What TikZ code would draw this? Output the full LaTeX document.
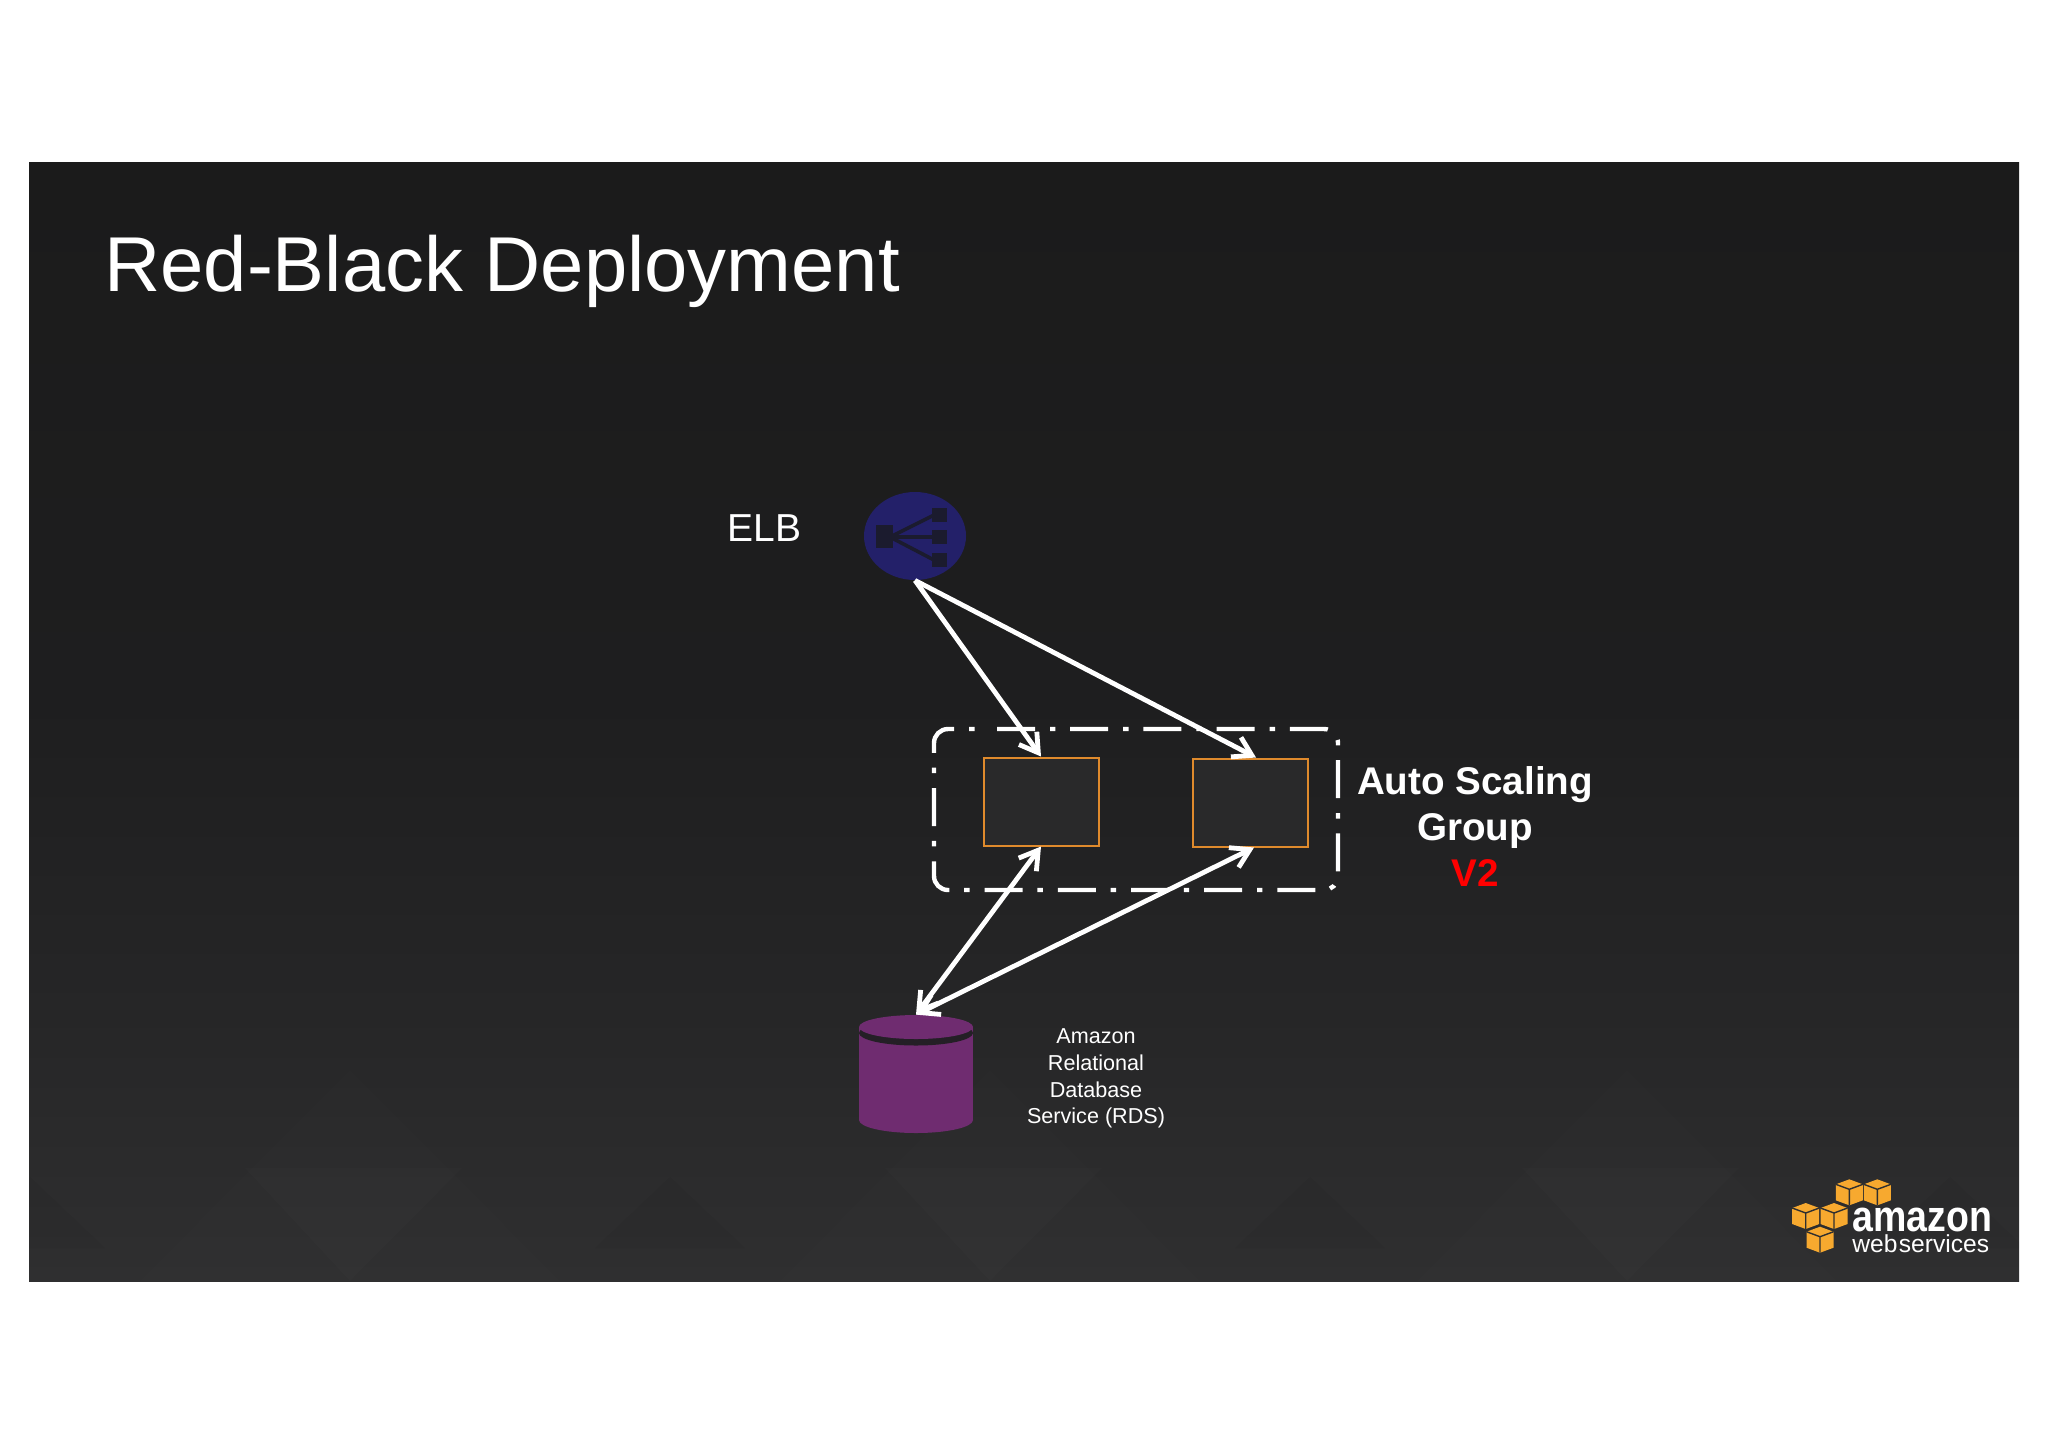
\documentclass[tikz,border=0pt]{standalone}
\usepackage{fontspec}
\usepackage{graphicx}
\setmainfont{Liberation Sans}
\usetikzlibrary{arrows.meta,shapes.geometric}
\definecolor{slidetop}{HTML}{1B1B1B}
\definecolor{slidemid}{HTML}{1E1E1F}
\definecolor{slidelow}{HTML}{262627}
\definecolor{slidebot}{HTML}{2F2F30}
\definecolor{elbblue}{HTML}{232069}
\definecolor{elbdark}{HTML}{1B1B2E}
\definecolor{rdspurple}{HTML}{6F2C70}
\definecolor{rdsdark}{HTML}{241F26}
\definecolor{boxedge}{HTML}{DF8A2C}
\definecolor{boxfill}{HTML}{29292A}
\definecolor{awsorange}{HTML}{F7A92F}
\pgfdeclareverticalshading{slidebg}{100bp}{color(0bp)=(slidebot); color(25bp)=(slidebot); color(37bp)=(slidelow); color(51bp)=(slidemid); color(75bp)=(slidetop); color(100bp)=(slidetop)}
\tikzset{
  slidetext/.style={text=white,inner sep=0pt},
  instance/.style={draw=boxedge,line width=1pt,fill=boxfill,minimum width=57.5pt,minimum height=44pt,inner sep=0pt},
  flow/.style={draw=white,line width=2.4pt,-{Straight Barb[length=9pt,width=11pt]}},
  bothflow/.style={flow,{Straight Barb[length=9pt,width=11pt]}-{Straight Barb[length=9pt,width=11pt]}},
}
\begin{document}
\begin{tikzpicture}[x=0.5pt,y=-0.5pt]
  \useasboundingbox (0,0) rectangle (2048,1447);
  \fill[white] (0,0) rectangle (2048,1447);
  \fill[shading=slidebg] (29,162) rectangle (2019,1281);
  \begin{scope}
    \clip (29,162) rectangle (2019,1281);
    \foreach \x in {350,990,1627} {
      \fill[white,opacity=0.007] (\x,1070) -- (\x+210,1281) -- (\x-210,1281) -- cycle;
      \fill[white,opacity=0.011] (\x-105,1168) -- (\x+112,1168) -- (\x,1281) -- cycle;
    }
    \foreach \x in {30,670,1310,1950} {
      \fill[black,opacity=0.035] (\x,1177) -- (\x+75,1248) -- (\x-75,1248) -- cycle;
    }
  \end{scope}
  \node[slidetext,anchor=base west,font=\fontsize{38.9}{46}\selectfont] (title) at (104,291) {Red-Black Deployment};
  \node[slidetext,anchor=base west,font=\fontsize{19.5}{23}\selectfont] (elblabel) at (727,541) {ELB};
  \node[ellipse,fill=elbblue,minimum width=51pt,minimum height=44pt,inner sep=0pt] (elb) at (915,536) {};
  \fill[elbdark] (876,525) rectangle (893,548);
  \foreach \y in {515,537,560} {
    \fill[elbdark] (932,\y-7) rectangle (947,\y+7);
    \draw[elbdark,line width=1.8pt] (890,537) -- (934,\y);
  }
  \draw[white,line width=2.2pt,rounded corners=7pt,dash pattern=on 19pt off 7.5pt on 2.7pt off 7.4pt] (997,729) -- (1338,729) -- (1338,890) -- (934,890) -- (934,729) -- (986,729);
  \node[instance] (instancea) at (1041,801.5) {};
  \node[instance] (instanceb) at (1250,802.5) {};
  \fill[rdspurple] (859,1027) rectangle (973,1120);
  \fill[rdspurple] (916,1120) ellipse (57 and 13);
  \fill[rdsdark] (916,1033) ellipse (57 and 12.5);
  \node[ellipse,fill=rdspurple,minimum width=57pt,minimum height=12pt,inner sep=0pt] (rds) at (916,1027) {};
  \draw[flow] (elb.south) -- (instancea.north);
  \draw[flow] (elb.south) -- ([xshift=3pt]instanceb.north);
  \draw[bothflow] (rds.north) -- (instancea.south);
  \draw[bothflow] (rds.north) -- ([xshift=2pt]instanceb.south);
  \node[slidetext,align=center,font=\fontsize{19.3}{23}\bfseries\selectfont] (asglabel) at (1475,826) {Auto Scaling\\Group\\\textcolor{red}{V2}};
  \node[slidetext,align=center,font=\fontsize{10.8}{13.35}\selectfont] (rdslabel) at (1096,1078.5) {Amazon\\Relational\\Database\\Service (RDS)};
  \foreach \x/\y in {1849.3/1192.3,1877.3/1192.3,1805.7/1216,1834/1216,1820/1239.7} {
    \fill[awsorange] (\x,\y-13) -- (\x+13.5,\y-8) -- (\x+13.5,\y+8) -- (\x,\y+13) -- (\x-13.5,\y+8) -- (\x-13.5,\y-8) -- cycle;
    \draw[slidebot,line width=0.7pt] (\x-13.5,\y-8) -- (\x,\y-3) -- (\x+13.5,\y-8) (\x,\y-3) -- (\x,\y+13);
  }
  \node[slidetext,align=left,anchor=south west,font=\fontsize{12.3}{10.5}\selectfont] (awslogo) at (1852,1253) {{\fontsize{21.8}{10.5}\bfseries\selectfont\scalebox{.86}[1]{amazon}}\\\spaceskip=0.7pt web services};
\end{tikzpicture}
\end{document}
